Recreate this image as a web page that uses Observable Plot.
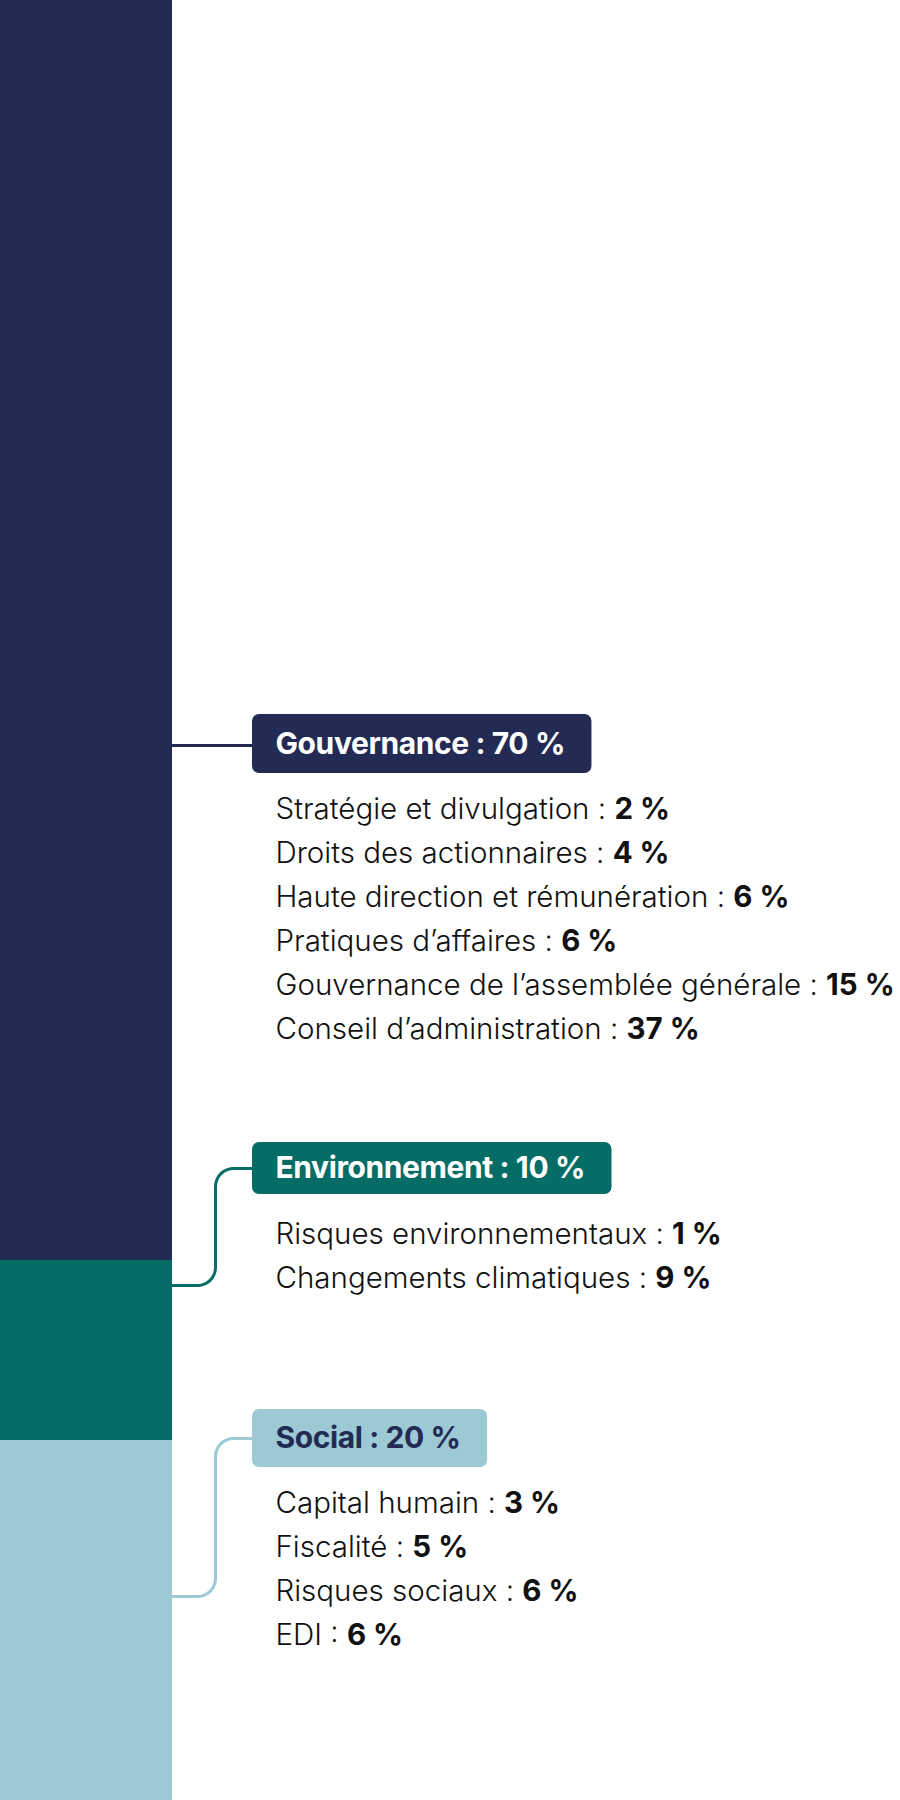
<!DOCTYPE html>
<html><head><meta charset="utf-8">
<script src="https://cdn.jsdelivr.net/npm/d3@7"></script>
<script src="https://cdn.jsdelivr.net/npm/@observablehq/plot@0.6"></script>
<style>html,body{margin:0;padding:0;background:#fff;} svg{display:block}</style>
</head><body><div id="chart"></div>
<script>
// ---- data ----
const categories = ["Gouvernance", "Environnement", "Social"];
const shares = [70, 10, 20];
const colors = ["#232B55", "#066C66", "#9CC9D4"];
const labelTextColors = ["#ffffff", "#ffffff", "#232B55"];

const govItems = ["Stratégie et divulgation", "Droits des actionnaires", "Haute direction et rémunération", "Pratiques d’affaires", "Gouvernance de l’assemblée générale", "Conseil d’administration"];
const govValues = [2, 4, 6, 6, 15, 37];
const envItems = ["Risques environnementaux", "Changements climatiques"];
const envValues = [1, 9];
const socItems = ["Capital humain", "Fiscalité", "Risques sociaux", "EDI"];
const socValues = [3, 5, 6, 6];

// ---- layout (pixels) ----
const W = 900, H = 1800;
const barRight = 172, elbowX = 215, boxLeft = 252, padL = 23, padR = 27, radius = 18;
const leaderY = [745, 1285, 1596];
const boxTop = [714, 1142, 1409];
const boxBottom = [773, 1194, 1467];
const firstItemY = [809, 1234, 1503];
const itemStep = 44;
const FONT = "Inter";
const labelSize = 30, itemSize = 29.5;
const labelSpacing = "-0.4px", itemSpacing = "0px";
const u = px => px * 100 / H; // pixel -> y units (percent)

const ctx = document.createElement("canvas").getContext("2d");
function tw(str, weight, size, ls) {
  ctx.font = `${weight} ${size}px ${FONT}`;
  return ctx.measureText(str).width + parseFloat(ls) * [...str].length;
}

// stacked bar table
const segments = categories.map((c, i) => ({category: c, value: shares[i], color: colors[i]}));

// label boxes
const boxes = categories.map((c, i) => {
  const text = `${c} : ${shares[i]}\u00A0%`;
  const w = tw(text, 700, labelSize, labelSpacing);
  return {text, x1: boxLeft, x2: boxLeft + padL + w + padR, y1: u(boxTop[i]), y2: u(boxBottom[i]),
          yc: u((boxTop[i] + boxBottom[i]) / 2), fill: colors[i], tc: labelTextColors[i]};
});

// sub-items
const groups = [[govItems, govValues], [envItems, envValues], [socItems, socValues]];
const items = [];
groups.forEach(([names, vals], g) => {
  names.forEach((n, k) => {
    const name = `${n} : `;
    items.push({name, val: `${vals[k]}\u00A0%`, x: boxLeft + padL, xv: boxLeft + padL + tw(name, 300, itemSize, itemSpacing), y: u(firstItemY[g] + k * itemStep)});
  });
});

// leader lines with rounded elbows
function elbow(g, yStart, yEnd) {
  const pts = [];
  if (Math.abs(yStart - yEnd) < 1) {
    pts.push({x: barRight, y: u(yStart), g}, {x: boxLeft, y: u(yStart), g});
    return pts;
  }
  const r = radius;
  pts.push({x: barRight, y: u(yStart), g});
  for (let t = 0; t <= 8; t++) {
    const a = Math.PI / 2 * t / 8;
    pts.push({x: elbowX - r + r * Math.sin(a), y: u(yStart - r + r * Math.cos(a)), g});
  }
  for (let t = 0; t <= 8; t++) {
    const a = Math.PI / 2 * t / 8;
    pts.push({x: elbowX + r - r * Math.cos(a), y: u(yEnd + r - r * Math.sin(a)), g});
  }
  pts.push({x: boxLeft, y: u(yEnd), g});
  return pts;
}
const leaders = [
  ...elbow(0, leaderY[0], leaderY[0]),
  ...elbow(1, leaderY[1], (boxTop[1] + boxBottom[1]) / 2),
  ...elbow(2, leaderY[2], (boxTop[2] + boxBottom[2]) / 2)
];

const chart = Plot.plot({
  width: W, height: H, margin: 0,
  style: {fontFamily: FONT, background: "#ffffff"},
  x: {domain: [0, W], range: [0, W], axis: null},
  y: {domain: [0, 100], range: [0, H], axis: null},
  marks: [
    Plot.rectY(segments, Plot.stackY({x1: () => 0, x2: () => barRight, y: "value", fill: "color", order: null})),
    Plot.line(leaders, {x: "x", y: "y", z: "g", stroke: d => colors[d.g], strokeWidth: 3, curve: "linear", strokeLinejoin: "round"}),
    Plot.rect(boxes, {x1: "x1", x2: "x2", y1: "y1", y2: "y2", fill: "fill", rx: 7, ry: 7}),
    Plot.text(boxes, {x: d => d.x1 + padL, y: "yc", text: "text", fill: "tc", textAnchor: "start", fontWeight: 700, fontSize: labelSize, fontFamily: FONT}),
    Plot.text(items, {x: "x", y: "y", text: "name", fill: "#111111", textAnchor: "start", fontWeight: 300, fontSize: itemSize, fontFamily: FONT}),
    Plot.text(items, {x: "xv", y: "y", text: "val", fill: "#111111", textAnchor: "start", fontWeight: 700, fontSize: itemSize, fontFamily: FONT})
  ]
});
// apply letter spacing to text marks
chart.querySelectorAll("g[aria-label='text']").forEach((g, i) => {
  g.setAttribute("letter-spacing", i === 0 ? labelSpacing : itemSpacing);
});
document.getElementById("chart").appendChild(chart);
</script>
</body></html>
